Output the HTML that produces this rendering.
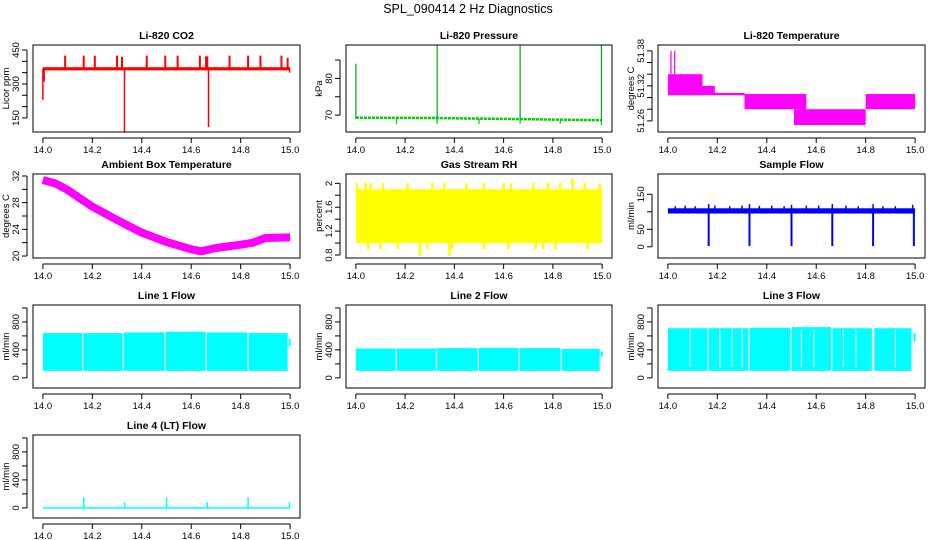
<!DOCTYPE html>
<html><head><meta charset="utf-8"><style>
body{margin:0;background:#fff}
svg{display:block;font-family:"Liberation Sans",sans-serif}
</style></head><body>
<svg id="s" width="936" height="540" viewBox="0 0 936 540">
<text x="468" y="13" text-anchor="middle" font-size="12.5">SPL_090414  2 Hz Diagnostics</text>
</svg>
<script>
// ---- data ----
const xTicks=[14.0,14.2,14.4,14.6,14.8,15.0];
// CO2
const co2BandX=[14.0,15.0], co2Base=[360,374];
const co2UpX=[14.09,14.165,14.21,14.30,14.32,14.42,14.495,14.545,14.635,14.66,14.665,14.755,14.83,14.88,14.965,14.99];
const co2UpTop=[425,425,425,425,420,425,425,425,425,422,422,425,425,425,425,415];
const co2DownX=[14.0,14.005,14.33,14.67,14.998];
const co2DownBot=[230,310,85,110,350];
// Pressure
const presX=[14.0,14.33,14.67,15.0], presY=[69.3,69.2,68.9,68.6];
const presSpikeX=[14.0,14.33,14.667,14.997], presSpikeTop=[84,89,89,89];
const presDipX=[14.165,14.33,14.5,14.667,14.83,14.997], presDipBot=[67.6,67.6,67.6,67.6,67.6,67.3];
// Li-820 temperature bands [x0,x1,lo,hi]
const tempX0=[14.0,14.06,14.0,14.31,14.51,14.80,14.01,14.025];
const tempX1=[14.14,14.19,14.31,14.56,14.80,15.0,14.015,14.03];
const tempLo=[51.306,51.306,51.304,51.28,51.253,51.28,51.34,51.34];
const tempHi=[51.34,51.32,51.308,51.306,51.28,51.306,51.38,51.38];
// Ambient box temperature
const ambX=[14.0,14.05,14.1,14.2,14.3,14.4,14.5,14.6,14.64,14.7,14.8,14.85,14.9,15.0];
const ambY=[31.4,30.9,29.9,27.4,25.4,23.5,22.1,21.0,20.7,21.2,21.7,22.0,22.7,22.8];
// Gas stream RH
const rhBand=[1.0,1.9];
const rhUpX=[14.005,14.04,14.06,14.11,14.21,14.31,14.36,14.45,14.52,14.6,14.63,14.72,14.78,14.83,14.88,14.93,14.99];
const rhUpTop=[2.0,2.0,2.0,2.0,2.0,2.0,2.0,2.0,2.0,2.0,2.0,2.0,2.0,2.0,2.08,2.0,2.0];
const rhDnX=[14.05,14.1,14.17,14.26,14.29,14.38,14.39,14.52,14.62,14.73,14.76,14.81,14.94];
const rhDnBot=[0.9,0.9,0.9,0.78,0.9,0.78,0.9,0.9,0.9,0.9,0.9,0.9,0.9];
// Sample flow
const sfBand=[95,110];
const sfUpX=[14.03,14.07,14.11,14.165,14.19,14.25,14.30,14.33,14.37,14.42,14.47,14.5,14.56,14.61,14.665,14.72,14.77,14.83,14.87,14.92,14.99];
const sfUpTop=[116,118,116,122,118,116,118,122,117,118,116,120,118,118,122,118,116,122,116,116,120];
const sfDropX=[14.165,14.33,14.5,14.665,14.83,14.995];
const sfDropBot=[2,2,2,2,2,2];
// Line flows: segments
const l1X0=[14.0,14.163,14.328,14.497,14.663,14.833], l1X1=[14.158,14.323,14.492,14.658,14.828,14.99];
const l1Lo=[100,100,100,100,100,100], l1Hi=[640,640,650,660,650,640];
const l2X0=[14.0,14.167,14.33,14.50,14.665,14.835], l2X1=[14.162,14.325,14.495,14.66,14.83,14.99];
const l2Lo=[100,100,100,100,100,100], l2Hi=[420,420,425,430,425,415];
const l3X0=[14.0,14.165,14.33,14.50,14.665,14.835], l3X1=[14.16,14.325,14.495,14.66,14.825,14.985];
const l3Lo=[100,100,100,100,100,100], l3Hi=[710,710,715,725,710,710];
const l3GapX=[14.09,14.21,14.26,14.30,14.54,14.59,14.71,14.76,14.92];
const l4BaseX=[14.0,15.0], l4Base=[-10,10];
const l4SpikeX=[14.165,14.33,14.5,14.665,14.83,14.997], l4SpikeTop=[150,80,150,80,150,80];

// ---- layout ----
const cols=[[33,300],[346,612],[658,925]];
const rows=[[45,132],[174,258],[305,388],[435,518]];
const XL=[13.96,15.04];
const S=document.getElementById('s');
const NS='http://www.w3.org/2000/svg';
function mk(tag,attrs,parent){const e=document.createElementNS(NS,tag);for(const k in attrs)e.setAttribute(k,attrs[k]);(parent||S).appendChild(e);return e;}

function panel(name,title,ylab,c,r,yl,yTicks,yLabels){
  const g=mk('g',{});
  
  
  const [x0,x1]=cols[c],[y0,y1]=rows[r];
  const sx=v=>x0+(v-XL[0])/(XL[1]-XL[0])*(x1-x0);
  const sy=v=>y1-(v-yl[0])/(yl[1]-yl[0])*(y1-y0);
  const t=mk('text',{x:(x0+x1)/2,y:y0-6,'text-anchor':'middle','font-size':10.5,'font-weight':'bold'},g);
  t.textContent=title;
  
  
  const ax=mk('g',{stroke:'#000','stroke-width':1,fill:'none'},g);
  
  
  mk('line',{x1:sx(14),x2:sx(15),y1:y1+6,y2:y1+6},ax);
  xTicks.forEach(v=>{mk('line',{x1:sx(v),x2:sx(v),y1:y1+6,y2:y1+11},ax);
    const tt=mk('text',{x:sx(v),y:y1+21,'text-anchor':'middle','font-size':9.5,fill:'#000',stroke:'none'},g);tt.textContent=v.toFixed(1);
    
    });
  mk('line',{x1:x0-6,x2:x0-6,y1:sy(yTicks[0]),y2:sy(yTicks[yTicks.length-1])},ax);
  yTicks.forEach(v=>mk('line',{x1:x0-11,x2:x0-6,y1:sy(v),y2:sy(v)},ax));
  yLabels.forEach(v=>{const yy=sy(v),xx=x0-14;
    const tt=mk('text',{x:xx,y:yy,'text-anchor':'middle','font-size':9.5,transform:`rotate(-90 ${xx} ${yy})`},g);tt.textContent=String(v);
    
    });
  const yy=(y0+y1)/2,xx=x0-24;
  const yt=mk('text',{x:xx,y:yy,'text-anchor':'middle','font-size':9.5,transform:`rotate(-90 ${xx} ${yy})`},g);yt.textContent=ylab;
  
  
  const plot=mk('g',{},g);
  
  
  mk('rect',{x:x0,y:y0,width:x1-x0,height:y1-y0,fill:'none',stroke:'#000'},g);
  return {sx,sy,plot};
}
function band(p,xa,xb,lo,hi,col){mk('rect',{x:p.sx(xa),y:p.sy(hi),width:Math.max(1,p.sx(xb)-p.sx(xa)),height:Math.max(1.5,p.sy(lo)-p.sy(hi)),fill:col},p.plot);}
function vline(p,x,a,b,col,w){mk('line',{x1:p.sx(x),x2:p.sx(x),y1:p.sy(a),y2:p.sy(b),stroke:col,'stroke-width':w||1.5},p.plot);}

let p;
p=panel('co2-panel','Li-820 CO2','Licor ppm',0,0,[88,472],[150,200,250,300,350,400,450],[150,300,450]);
band(p,co2BandX[0],co2BandX[1],co2Base[0],co2Base[1],'#f00');
co2UpX.forEach((x,i)=>vline(p,x,368,co2UpTop[i],'#f00',2));
co2DownX.forEach((x,i)=>vline(p,x,368,co2DownBot[i],'#f00',1.5));

p=panel('pressure-panel','Li-820 Pressure','kPa',1,0,[65.4,89.1],[70,75,80,85],[70,80]);
mk('polyline',{points:presX.map((x,i)=>p.sx(x)+','+p.sy(presY[i])).join(' '),fill:'none',stroke:'#0c0','stroke-width':2.5,'stroke-dasharray':'3 1'},p.plot);
presSpikeX.forEach((x,i)=>vline(p,x,69,presSpikeTop[i],'#0a0',1.2));
presDipX.forEach((x,i)=>vline(p,x,69,presDipBot[i],'#0c0',1.2));

p=panel('temperature-panel','Li-820 Temperature','degrees C',2,0,[51.241,51.39],[51.26,51.28,51.30,51.32,51.34,51.36,51.38],[51.26,51.32,51.38]);
tempX0.forEach((x,i)=>band(p,x,tempX1[i],tempLo[i],tempHi[i],'#f0f'));

p=panel('ambient-temp-panel','Ambient Box Temperature','degrees C',0,1,[19.7,32.3],[20,22,24,26,28,30,32],[20,24,28,32]);
mk('polyline',{points:ambX.map((x,i)=>p.sx(x)+','+p.sy(ambY[i])).join(' '),fill:'none',stroke:'#f0f','stroke-width':8,'stroke-linejoin':'round'},p.plot);

p=panel('rh-panel','Gas Stream RH','percent',1,1,[0.75,2.156],[0.8,1.0,1.2,1.4,1.6,1.8,2.0],[0.8,1.2,1.6,2.0]);
band(p,14.0,15.0,rhBand[0],rhBand[1],'#ff0');
rhUpX.forEach((x,i)=>vline(p,x,1.8,rhUpTop[i],'#ff0',2.5));
rhDnX.forEach((x,i)=>vline(p,x,1.2,rhDnBot[i],'#ff0',2.5));

p=panel('sample-flow-panel','Sample Flow','ml/min',2,1,[-32,208],[0,50,100,150],[0,50,150]);
band(p,14.0,15.0,sfBand[0],sfBand[1],'#00f');
sfUpX.forEach((x,i)=>vline(p,x,104,sfUpTop[i],'#00f',1.5));
sfDropX.forEach((x,i)=>vline(p,x,104,sfDropBot[i],'#00f',2));

const flowTicks=[0,200,400,600,800,1000], flowLabels=[0,400,800];
p=panel('line1-flow-panel','Line 1 Flow','ml/min',0,2,[-145,1042],flowTicks,flowLabels);
l1X0.forEach((x,i)=>band(p,x,l1X1[i],l1Lo[i],l1Hi[i],'#0ff'));
vline(p,14.998,450,560,'#0ff',2);
p=panel('line2-flow-panel','Line 2 Flow','ml/min',1,2,[-145,1042],flowTicks,flowLabels);
l2X0.forEach((x,i)=>band(p,x,l2X1[i],l2Lo[i],l2Hi[i],'#0ff'));
vline(p,14.998,300,380,'#0ff',2);
p=panel('line3-flow-panel','Line 3 Flow','ml/min',2,2,[-145,1042],flowTicks,flowLabels);
l3X0.forEach((x,i)=>band(p,x,l3X1[i],l3Lo[i],l3Hi[i],'#0ff'));
l3GapX.forEach(x=>vline(p,x,150,690,'#fff',1));
vline(p,14.998,520,640,'#0ff',2);
p=panel('line4-flow-panel','Line 4 (LT) Flow','ml/min',0,3,[-145,1042],flowTicks,flowLabels);
band(p,l4BaseX[0],l4BaseX[1],l4Base[0],l4Base[1],'#0ff');
l4SpikeX.forEach((x,i)=>vline(p,x,0,l4SpikeTop[i],'#0ff',1.5));
</script>
</body></html>
